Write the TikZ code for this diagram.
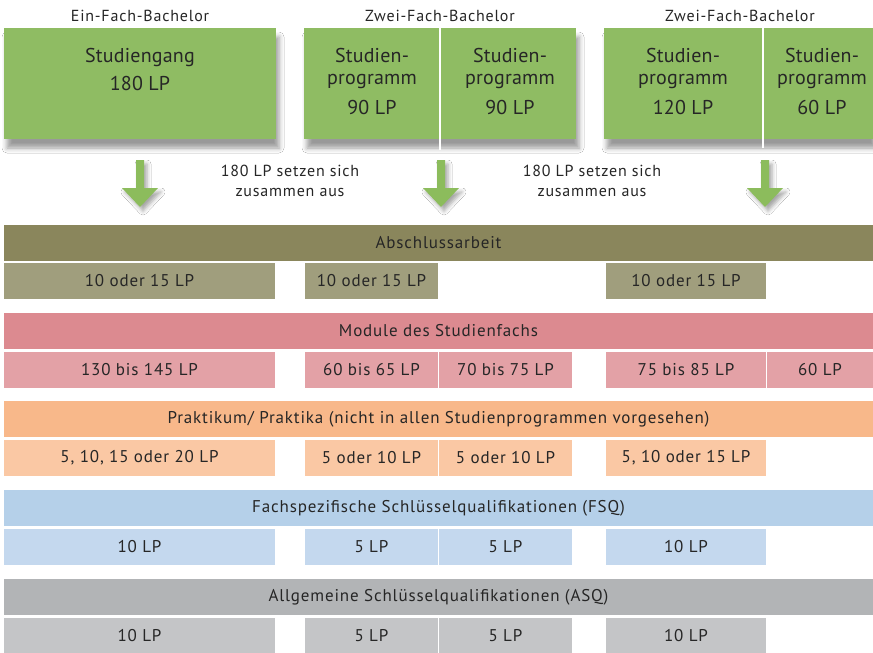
\documentclass[tikz,border=0pt]{standalone}
\usepackage{fontspec}
\setmainfont{PT Sans}[LetterSpace=5]
\newfontfamily\topfont{PT Sans}[LetterSpace=1]
\usetikzlibrary{shadows.blur}
\definecolor{cgreen}{HTML}{8FBC63}
\definecolor{carrow}{HTML}{8CBC5C}
\definecolor{absH}{HTML}{8A865C}
\definecolor{absS}{HTML}{A09E7D}
\definecolor{modH}{HTML}{DC8A90}
\definecolor{modS}{HTML}{E3A1A6}
\definecolor{praH}{HTML}{F8B88A}
\definecolor{praS}{HTML}{FAC8A4}
\definecolor{fsqH}{HTML}{B5D0E9}
\definecolor{fsqS}{HTML}{C4D8EE}
\definecolor{asqH}{HTML}{B2B4B6}
\definecolor{asqS}{HTML}{C4C5C7}
\definecolor{ctext}{HTML}{262626}
\begin{document}
\begin{tikzpicture}[x=1pt,y=-1pt,
  topbox/.style={fill=cgreen, minimum height=111, inner sep=0, draw=none,
    blur shadow={shadow xshift=3pt, shadow yshift=-9pt, shadow blur radius=5pt, shadow opacity=40}},
  toptext/.style={inner sep=0, text=ctext, align=center, font=\topfont\fontsize{20}{22}\selectfont},
  lbl/.style={inner sep=0, text=ctext, align=center, font=\fontsize{16}{20}\selectfont},
  hdr/.style={minimum width=869, minimum height=36, inner sep=0, text=ctext, font=\fontsize{17}{20}\selectfont},
  subbox/.style={minimum height=36, inner sep=0, text=ctext, font=\fontsize{17}{20}\selectfont},
  arrowshape/.style={fill=carrow,
    blur shadow={shadow xshift=3pt, shadow yshift=-4pt, shadow blur radius=4pt, shadow opacity=35}},
  divider/.style={draw=white, line width=1.5pt}
]
\useasboundingbox (0,0) rectangle (873,653);
\fill[white] (0,0) rectangle (873,653);

% headings
\node[lbl] (h1) at (140,16) {Ein-Fach-Bachelor};
\node[lbl] (h2) at (440,16) {Zwei-Fach-Bachelor};
\node[lbl] (h3) at (740,16) {Zwei-Fach-Bachelor};

% top boxes
\node[topbox, minimum width=272] (b1) at (140,83.5) {};
\node[topbox, minimum width=272] (b2) at (440,83.5) {};
\node[topbox, minimum width=269] (b3) at (738.5,83.5) {};
\draw[divider] (440,28) -- (440,150);
\draw[divider] (763,28) -- (763,148);

\node[toptext] (t1) at (140,69) {Studiengang\\[6pt]180 LP};
\node[toptext] (t2) at (372,81.5) {Studien-\\programm\\[8pt]90 LP};
\node[toptext] (t3) at (510,81.5) {Studien-\\programm\\[8pt]90 LP};
\node[toptext] (t4) at (683,81.5) {Studien-\\programm\\[8pt]120 LP};
\node[toptext] (t5) at (822,81.5) {Studien-\\programm\\[8pt]60 LP};

% arrows
\foreach \c in {140,441,765}{
  \fill[arrowshape] (\c-4,160) -- (\c+4,160) -- (\c+4,188) -- (\c+18,188) -- (\c,207)
    -- (\c-18,188) -- (\c-4,188) -- cycle;
}

\node[lbl] (m1) at (290,181) {180 LP setzen sich\\zusammen aus};
\node[lbl] (m2) at (592,181) {180 LP setzen sich\\zusammen aus};

% Abschlussarbeit
\node[hdr, fill=absH] (absH) at (438.5,243) {Abschlussarbeit};
\node[subbox, fill=absS, minimum width=271] (absA) at (139.5,281) {10 oder 15 LP};
\node[subbox, fill=absS, minimum width=133] (absB) at (371.5,281) {10 oder 15 LP};
\node[subbox, fill=absS, minimum width=160] (absD) at (686,281) {10 oder 15 LP};

% Module
\node[hdr, fill=modH] (modH) at (438.5,331) {Module des Studienfachs};
\node[subbox, fill=modS, minimum width=271] (modA) at (139.5,370) {130 bis 145 LP};
\node[subbox, fill=modS, minimum width=133] (modB) at (371.5,370) {60 bis 65 LP};
\node[subbox, fill=modS, minimum width=133] (modC) at (505.5,370) {70 bis 75 LP};
\node[subbox, fill=modS, minimum width=160] (modD) at (686,370) {75 bis 85 LP};
\node[subbox, fill=modS, minimum width=106] (modE) at (820,370) {60 LP};

% Praktikum
\node[hdr, fill=praH] (praH) at (438.5,419) {Praktikum/ Praktika (nicht in allen Studienprogrammen vorgesehen)};
\node[subbox, fill=praS, minimum width=271] (praA) at (139.5,458) {5, 10, 15 oder 20 LP};
\node[subbox, fill=praS, minimum width=133] (praB) at (371.5,458) {5 oder 10 LP};
\node[subbox, fill=praS, minimum width=133] (praC) at (505.5,458) {5 oder 10 LP};
\node[subbox, fill=praS, minimum width=160] (praD) at (686,458) {5, 10 oder 15 LP};

% FSQ
\node[hdr, fill=fsqH] (fsqH) at (438.5,508) {Fachspezifische Schlüsselqualifikationen (FSQ)};
\node[subbox, fill=fsqS, minimum width=271] (fsqA) at (139.5,547) {10 LP};
\node[subbox, fill=fsqS, minimum width=133] (fsqB) at (371.5,547) {5 LP};
\node[subbox, fill=fsqS, minimum width=133] (fsqC) at (505.5,547) {5 LP};
\node[subbox, fill=fsqS, minimum width=160] (fsqD) at (686,547) {10 LP};

% ASQ
\node[hdr, fill=asqH] (asqH) at (438.5,597) {Allgemeine Schlüsselqualifikationen (ASQ)};
\node[subbox, fill=asqS, minimum width=271] (asqA) at (139.5,636) {10 LP};
\node[subbox, fill=asqS, minimum width=133] (asqB) at (371.5,636) {5 LP};
\node[subbox, fill=asqS, minimum width=133] (asqC) at (505.5,636) {5 LP};
\node[subbox, fill=asqS, minimum width=160] (asqD) at (686,636) {10 LP};
\end{tikzpicture}
\end{document}
